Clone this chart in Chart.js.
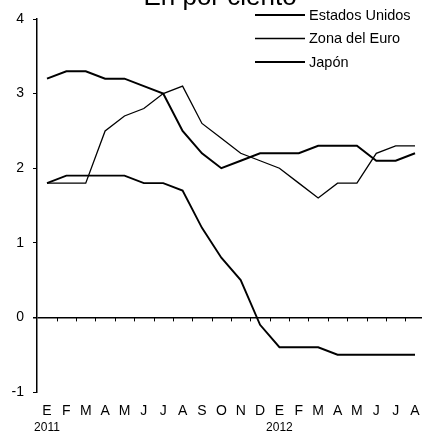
<!DOCTYPE html>
<html><head><meta charset="utf-8">
<script src="https://cdn.jsdelivr.net/npm/chart.js@4"></script>
<style>html,body{margin:0;padding:0;background:#fff}#c{display:block}#note{position:absolute;left:60px;top:330px;font:10px monospace;white-space:pre}</style>
</head><body>
<canvas id="c" width="422" height="434"></canvas>
<div id="note"></div>
<script>
const monthLabels = ['E','F','M','A','M','J','J','A','S','O','N','D','E','F','M','A','M','J','J','A'];
const yearLabels = ['2011','2012'];
const yearIndex = [0, 12];
const yTicks = [-1, 0, 1, 2, 3, 4];
const seriesNames = ['Estados Unidos', 'Zona del Euro', 'Japón'];
const estadosUnidos = [3.2,3.3,3.3,3.2,3.2,3.1,3.0,2.5,2.2,2.0,2.1,2.2,2.2,2.2,2.3,2.3,2.3,2.1,2.1,2.2];
const zonaEuro = [1.8,1.8,1.8,2.5,2.7,2.8,3.0,3.1,2.6,2.4,2.2,2.1,2.0,1.8,1.6,1.8,1.8,2.2,2.3,2.3];
const japon = [1.8,1.9,1.9,1.9,1.9,1.8,1.8,1.7,1.2,0.8,0.5,-0.1,-0.4,-0.4,-0.4,-0.5,-0.5,-0.5,-0.5,-0.5];
const titleText = 'En por ciento';

const FONT = '"Liberation Sans", Arial, sans-serif';
Chart.defaults.font.family = FONT;
Chart.defaults.color = '#000';

const X_MIN = -0.516, X_MAX = 19.36;
const pts = arr => arr.map((v, i) => ({x: i, y: v}));
const zeroTickPos = monthLabels.slice(1).map((_, i) => i + 0.5);

const topTitle = {
  id: 'topTitle',
  afterDraw(chart) {
    const c = chart.ctx;
    c.save();
    c.font = '26px ' + FONT;
    c.fillStyle = '#000';
    c.textAlign = 'center';
    c.textBaseline = 'alphabetic';
    c.fillText(titleText, 220, 5);
    c.restore();
  }
};
const legendBox = {
  id: 'legendBox',
  afterDraw(chart) {
    const c = chart.ctx;
    c.save();
    c.font = '14.5px ' + FONT;
    c.fillStyle = '#000';
    c.textAlign = 'left';
    c.textBaseline = 'middle';
    chart.data.datasets.forEach((d, i) => {
      const y = 15 + i * 23.5;
      c.beginPath();
      c.lineWidth = d.borderWidth;
      c.strokeStyle = d.borderColor;
      c.moveTo(255, y);
      c.lineTo(305, y);
      c.stroke();
      c.fillText(d.label, 309, y + 0.5);
    });
    c.restore();
  }
};
const zeroTicks = {
  id: 'zeroTicks',
  afterDatasetsDraw(chart) {
    const c = chart.ctx, xs = chart.scales.x, ys = chart.scales.y;
    const y0 = ys.getPixelForValue(0);
    c.save();
    c.beginPath();
    c.lineWidth = 1;
    c.strokeStyle = '#000';
    zeroTickPos.forEach(v => {
      const px = Math.round(xs.getPixelForValue(v)) + 0.5;
      c.moveTo(px, y0);
      c.lineTo(px, y0 + 4);
    });
    c.stroke();
    c.restore();
  }
};

const ds = (label, data, w) => ({label, data: pts(data), borderColor: '#000', backgroundColor: '#000', borderWidth: w, pointRadius: 0, tension: 0, fill: false});

const chart = new Chart(document.getElementById('c'), {
  type: 'line',
  data: {datasets: [
    ds(seriesNames[0], estadosUnidos, 2),
    ds(seriesNames[1], zonaEuro, 1.3),
    ds(seriesNames[2], japon, 1.9)
  ]},
  options: {
    responsive: false,
    animation: false,
    layout: {padding: {top: 19, left: 0, right: 0, bottom: 0}},
    plugins: {
      legend: {display: false},
      tooltip: {enabled: false},
      title: {display: false}
    },
    scales: {
      x: {
        type: 'linear', position: 'bottom', weight: 0, min: X_MIN, max: X_MAX,
        afterBuildTicks: s => { s.ticks = monthLabels.map((_, i) => ({value: i})); },
        ticks: {callback: (v, i) => monthLabels[i], font: {size: 14, lineHeight: 38/14}, padding: 0, color: '#000', maxRotation: 0, minRotation: 0, autoSkip: false},
        grid: {display: false, drawTicks: false},
        border: {display: false},
        afterFit: s => { s.height = 28; }
      },
      years: {
        type: 'linear', axis: 'x', position: 'bottom', weight: 1, min: X_MIN, max: X_MAX,
        afterBuildTicks: s => { s.ticks = yearIndex.map(v => ({value: v})); },
        ticks: {callback: (v, i) => yearLabels[i], font: {size: 12}, padding: 0, color: '#000', maxRotation: 0, minRotation: 0, autoSkip: false},
        grid: {display: false, drawTicks: false},
        border: {display: false},
        afterFit: s => { s.height = 14; }
      },
      y: {
        type: 'linear', position: 'left', min: -1, max: 4,
        afterBuildTicks: s => { s.ticks = yTicks.map(v => ({value: v})); },
        ticks: {font: {size: 14}, color: '#000', padding: 9},
        grid: {
          display: true, drawOnChartArea: true, drawTicks: true, tickLength: 4,
          color: c => (c.tick && c.tick.value === 0) ? '#000' : 'rgba(0,0,0,0)',
          tickColor: '#000',
          lineWidth: c => (c.tick && c.tick.value === 0) ? 1.5 : 1
        },
        border: {display: true, color: '#000', width: 1.5},
        afterFit: s => { s.width = 37; }
      }
    }
  },
  plugins: [topTitle, legendBox, zeroTicks]
});
</script>
</body></html>
